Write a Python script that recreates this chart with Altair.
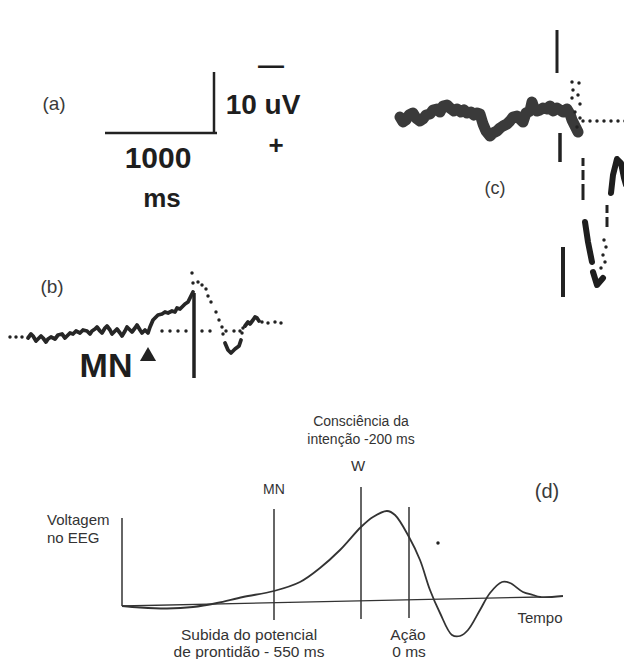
import altair as alt
import pandas as pd

# ---------------- values (figure pixel frame) ----------------
# panel (d): schematic readiness potential
d_curve_x = [122, 140, 167, 193, 217, 243, 274, 300, 320, 340, 361, 373, 387, 395, 409,
             420, 430, 440, 452, 460, 468, 480, 490, 502, 510, 523, 533, 540, 563]
d_curve_y = [606, 607.5, 608.5, 607, 603, 597, 591, 582, 568, 550, 527, 517, 511, 515, 537,
             560, 590, 613, 635, 636, 630, 610, 593, 582, 583, 592, 595, 597, 596]

# panel (b): averaged EEG trace (solid pieces)
b_trace1_x = [28, 31, 33, 36, 38, 41, 43, 46, 48, 51, 55, 58, 62, 65, 67, 70, 73, 76, 80, 83,
              87, 90, 92, 95, 97, 100, 102, 105, 107, 110, 112, 115, 117, 120, 122, 125, 127,
              130, 132, 135, 137, 140, 142, 145, 148, 150, 153, 156, 158, 162, 165, 168, 172,
              175, 177, 180, 182, 185, 188, 190, 193]
b_trace1_y = [338, 334, 336, 341, 339, 336, 338, 342, 339, 337, 339, 335, 334, 338, 336, 333,
              334, 331, 333, 330, 331, 334, 331, 329, 327, 331, 333, 328, 326, 330, 334, 331,
              329, 333, 336, 331, 327, 330, 332, 328, 325, 330, 333, 330, 333, 327, 320, 317,
              315, 314, 312, 313, 311, 312, 308, 309, 307, 304, 302, 298, 292]
b_trace2_x = [225, 228, 231, 235, 239, 241]
b_trace2_y = [343, 350, 353, 349, 346, 340]
b_trace3_x = [245, 248, 250, 253, 255, 257, 259]
b_trace3_y = [326, 322, 324, 320, 317, 318, 321]
b_dots_x = [10, 16, 22, 162, 170, 178, 186, 202, 210, 226, 234, 240,
            192, 193, 198, 202, 206, 208, 211, 216, 219, 222, 223, 242, 243, 262, 268, 275, 281]
b_dots_y = [337, 337, 337, 331, 331, 331, 331, 331, 331, 331, 331, 331,
            273, 283, 282, 285, 289, 296, 302, 312, 320, 327, 334, 333, 328, 322, 323, 322, 323]

# panel (c): single-trial trace
c_trace_x = [400, 403, 406, 409, 413, 416, 420, 423, 426, 430, 433, 437, 440, 443, 447, 450,
             454, 457, 461, 464, 467, 471, 474, 477, 480, 483, 486, 490, 493, 497, 500, 503,
             507, 510, 513, 517, 520, 523, 526, 530, 532, 534, 537, 540, 543, 547, 550, 553,
             557, 560, 563, 567, 570, 572, 575, 578]
c_trace_y = [117, 122, 120, 115, 113, 118, 121, 119, 115, 114, 110, 109, 112, 106, 105, 108,
             111, 109, 112, 110, 113, 112, 115, 113, 114, 124, 131, 136, 133, 131, 128, 126,
             124, 121, 117, 116, 119, 122, 113, 111, 102, 108, 111, 110, 108, 109, 106, 111,
             108, 110, 112, 109, 114, 120, 126, 132]
c_peak_x = [611, 613, 617, 621, 624, 626, 632]
c_peak_y = [193, 175, 159, 163, 178, 185, 187]
c_blob1_x = [585, 588, 592]
c_blob1_y = [222, 242, 262]
c_blob2_x = [593, 597, 603]
c_blob2_y = [272, 285, 278]
c_dots_x = [572, 579, 573, 578, 572, 580, 575, 580, 577,
            583, 590, 597, 604, 611, 618, 625, 632,
            604, 606, 603, 605, 601]
c_dots_y = [82, 83, 90, 95, 98, 104, 112, 118, 127,
            121, 121, 121, 121, 121, 121, 121, 121,
            240, 247, 255, 262, 268]

# straight strokes: scale bars, cursors, axes
rule_x1 = [105, 214, 194, 557, 560, 563, 583, 583, 583, 607, 607, 274, 361, 409, 122, 122]
rule_y1 = [133, 72, 293, 30, 133, 247, 158, 170, 184, 205, 217, 509, 487, 507, 518, 606]
rule_x2 = [217, 214, 194, 557, 560, 563, 583, 583, 583, 607, 607, 274, 361, 409, 122, 540]
rule_y2 = [133, 133, 378, 73, 162, 297, 166, 180, 200, 213, 227, 620, 619, 618, 606, 597]
rule_w = [2.5, 2.5, 3.5, 3, 3.5, 4, 3, 3, 3, 3, 3, 1.5, 1.5, 1.5, 1.5, 1.3]

# text labels
bold_text = ["10 uV", "—", "+", "1000", "ms", "MN"]
bold_x = [263, 271, 276, 158, 162, 106]
bold_y = [106, 66, 146, 159, 199, 367]
bold_size = [28, 26, 26, 30, 26, 34]

panel_text = ["(a)", "(b)", "(c)", "(d)"]
panel_x = [54, 52, 495, 547]
panel_y = [104, 287, 189, 492]
panel_size = [19, 19, 18, 20]

note_text = ["Consciência da", "intenção -200 ms", "W", "MN", "Tempo",
             "Subida do potencial", "de prontidão  - 550 ms", "Ação", "0 ms"]
note_x = [361, 361, 358, 274, 540, 249, 249, 408, 409]
note_y = [422, 440, 466, 490, 618, 635, 652, 635, 652]
note_size = [14, 14, 15, 14, 15, 15.5, 15.5, 15.5, 15.5]

left_text = ["Voltagem", "no EEG"]
left_x = [47, 47]
left_y = [520, 538]

# ---------------- build chart ----------------
X = alt.X("x:Q", scale=alt.Scale(domain=[8, 624], nice=False, zero=False), axis=None)
Y = alt.Y("y:Q", scale=alt.Scale(domain=[8, 659], nice=False, zero=False, reverse=True), axis=None)


def series(name, xs, ys):
    return pd.DataFrame({"x": xs, "y": ys, "seg": name, "i": range(len(xs))})


rules = pd.DataFrame({"x": rule_x1, "y": rule_y1, "x2": rule_x2, "y2": rule_y2, "w": rule_w,
                      "c": ["#222"] * 11 + ["#333"] * 5})
rule_layer = alt.Chart(rules).mark_rule(strokeCap="butt").encode(
    x=X, y=Y, x2="x2:Q", y2="y2:Q",
    strokeWidth=alt.StrokeWidth("w:Q", scale=None),
    color=alt.Color("c:N", scale=None),
)

d_layer = alt.Chart(series("d", d_curve_x, d_curve_y)).mark_line(
    interpolate="catmull-rom", color="#333", strokeWidth=1.8
).encode(x=X, y=Y, order="i:Q")

b_lines = pd.concat([series("b1", b_trace1_x, b_trace1_y),
                     series("b2", b_trace2_x, b_trace2_y),
                     series("b3", b_trace3_x, b_trace3_y)])
b_layer = alt.Chart(b_lines).mark_line(
    color="#262626", strokeWidth=3.8, strokeJoin="round", strokeCap="round"
).encode(x=X, y=Y, detail="seg:N", order="i:Q")

c_thick = alt.Chart(series("c", c_trace_x, c_trace_y)).mark_line(
    color="#3a3a3a", strokeWidth=11, strokeJoin="round", strokeCap="round"
).encode(x=X, y=Y, order="i:Q")

c_lines = pd.concat([series("p", c_peak_x, c_peak_y),
                     series("b1", c_blob1_x, c_blob1_y),
                     series("b2", c_blob2_x, c_blob2_y)])
c_thin = alt.Chart(c_lines).mark_line(
    color="#1e1e1e", strokeWidth=6, strokeJoin="round", strokeCap="round"
).encode(x=X, y=Y, detail="seg:N", order="i:Q")

dots = pd.DataFrame({"x": b_dots_x + c_dots_x + [438],
                     "y": b_dots_y + c_dots_y + [543]})
dot_layer = alt.Chart(dots).mark_circle(size=12, color="#222", opacity=1).encode(x=X, y=Y)

tri_layer = alt.Chart(pd.DataFrame({"x": [148], "y": [354]})).mark_point(
    shape="triangle-up", filled=True, size=260, color="#222", opacity=1
).encode(x=X, y=Y)

bold_layer = alt.Chart(pd.DataFrame({"x": bold_x, "y": bold_y, "t": bold_text, "s": bold_size})).mark_text(
    font="Liberation Sans", fontWeight="bold", color="#1e1e1e", align="center", baseline="middle"
).encode(x=X, y=Y, text="t:N", size=alt.Size("s:Q", scale=None))

panel_layer = alt.Chart(pd.DataFrame({"x": panel_x, "y": panel_y, "t": panel_text, "s": panel_size})).mark_text(
    font="Liberation Sans", color="#3a3a3a", align="center", baseline="middle"
).encode(x=X, y=Y, text="t:N", size=alt.Size("s:Q", scale=None))

note_layer = alt.Chart(pd.DataFrame({"x": note_x, "y": note_y, "t": note_text, "s": note_size})).mark_text(
    font="Liberation Sans", color="#333", align="center", baseline="middle"
).encode(x=X, y=Y, text="t:N", size=alt.Size("s:Q", scale=None))

left_layer = alt.Chart(pd.DataFrame({"x": left_x, "y": left_y, "t": left_text})).mark_text(
    font="Liberation Sans", color="#333", align="left", baseline="middle", fontSize=15
).encode(x=X, y=Y, text="t:N")

chart = alt.layer(
    rule_layer, d_layer, b_layer, c_thick, c_thin, dot_layer, tri_layer,
    bold_layer, panel_layer, note_layer, left_layer
).properties(
    width=616, height=651, padding=0, autosize=alt.AutoSizeParams(type="none"),
    background="white"
).configure_view(stroke=None)

chart.save("out.html", embed_options={"renderer": "svg", "actions": False})
